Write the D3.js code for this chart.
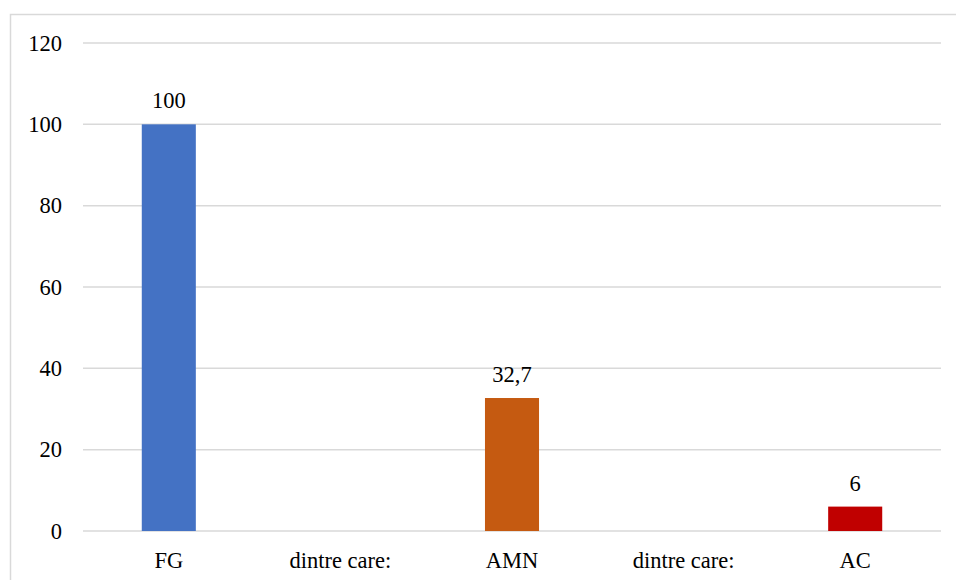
<!DOCTYPE html>
<html>
<head>
<meta charset="utf-8">
<script src="https://cdn.jsdelivr.net/npm/d3@7"></script>
<style>
  body { margin: 0; background: #fff; }
</style>
</head>
<body>
<div id="chart"></div>
<script>
// categories and values
const categories = ['FG', 'dintre care:', 'AMN', 'dintre care:', 'AC'];
const values = [100, null, 32.7, null, 6];
const valueLabels = ['100', '', '32,7', '', '6'];
const barColors = ['#4472C4', null, '#C55A11', null, '#C00000'];
const yTicks = [0, 20, 40, 60, 80, 100, 120];

const width = 956, height = 580;
const margin = { top: 43, right: 15, bottom: 49, left: 83 };
const serif = "'Times New Roman', 'Liberation Serif', 'DejaVu Serif', serif";
const fontSize = '22.5px';

let svg = d3.select('#chart')
  .append('svg')
  .attr('width', width)
  .attr('height', height);

// chart frame
svg.append('rect')
  .attr('x', 10.5)
  .attr('y', 14.5)
  .attr('width', 960)
  .attr('height', 600)
  .attr('fill', 'none')
  .attr('stroke', '#d9d9d9')
  .attr('stroke-width', 1.5);

let xScale = d3.scaleBand()
  .domain(d3.range(categories.length))
  .range([margin.left, width - margin.right])
  .padding(0);

let yScale = d3.scaleLinear()
  .domain([0, 120])
  .range([height - margin.bottom, margin.top]);

// gridlines
svg.selectAll('line.grid')
  .data(yTicks)
  .enter()
  .append('line')
  .attr('class', 'grid')
  .attr('x1', margin.left)
  .attr('x2', width - margin.right)
  .attr('y1', d => yScale(d))
  .attr('y2', d => yScale(d))
  .attr('stroke', '#d9d9d9')
  .attr('stroke-width', 1.5);

// y tick labels
svg.selectAll('text.ytick')
  .data(yTicks)
  .enter()
  .append('text')
  .attr('class', 'ytick')
  .attr('x', 62)
  .attr('y', d => yScale(d) + 7.5)
  .attr('text-anchor', 'end')
  .style('font-family', serif)
  .style('font-size', fontSize)
  .style('fill', '#000')
  .text(d => d);

// bars
let barFrac = 0.315;
let bars = categories.map((c, i) => ({ i: i, v: values[i], label: valueLabels[i], color: barColors[i] }))
  .filter(d => d.v !== null);

svg.selectAll('rect.bar')
  .data(bars)
  .enter()
  .append('rect')
  .attr('class', 'bar')
  .attr('x', d => xScale(d.i) + xScale.bandwidth() * (1 - barFrac) / 2)
  .attr('width', xScale.bandwidth() * barFrac)
  .attr('y', d => yScale(d.v))
  .attr('height', d => yScale(0) - yScale(d.v))
  .attr('fill', d => d.color);

// value labels
svg.selectAll('text.val')
  .data(bars)
  .enter()
  .append('text')
  .attr('class', 'val')
  .attr('x', d => xScale(d.i) + xScale.bandwidth() / 2)
  .attr('y', d => yScale(d.v) - 16)
  .attr('text-anchor', 'middle')
  .style('font-family', serif)
  .style('font-size', fontSize)
  .style('fill', '#000')
  .text(d => d.label);

// category labels
svg.selectAll('text.cat')
  .data(categories)
  .enter()
  .append('text')
  .attr('class', 'cat')
  .attr('x', (d, i) => xScale(i) + xScale.bandwidth() / 2)
  .attr('y', height - 12)
  .attr('text-anchor', 'middle')
  .style('font-family', serif)
  .style('font-size', fontSize)
  .style('fill', '#000')
  .text(d => d);
</script>
</body>
</html>
